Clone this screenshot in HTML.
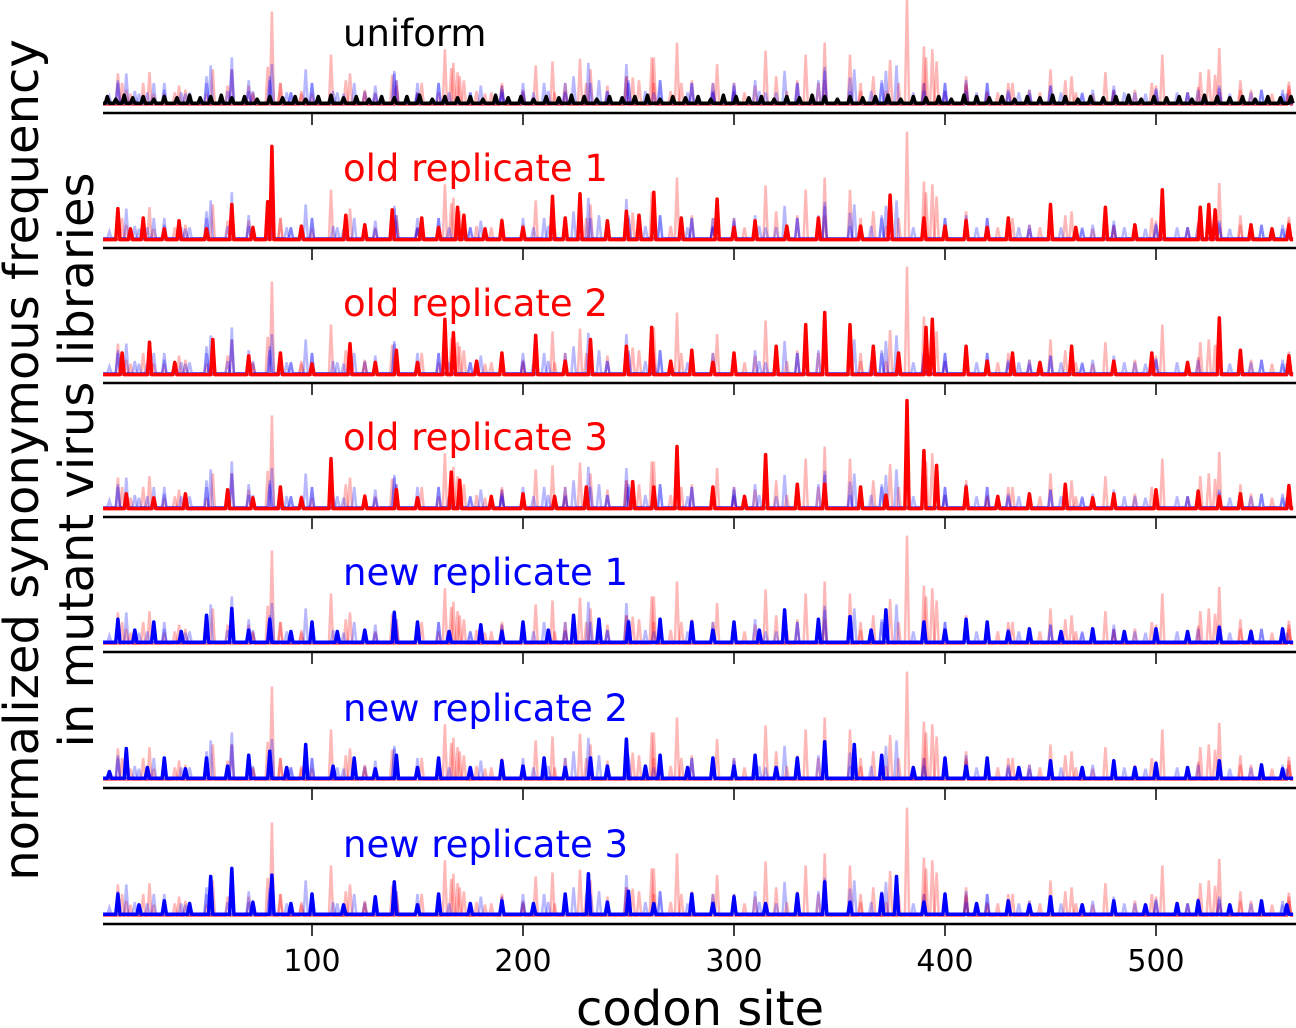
<!DOCTYPE html>
<html><head><meta charset="utf-8">
<style>
body{margin:0;background:#fff;}
svg{display:block;font-family:"DejaVu Sans","Liberation Sans",sans-serif;}
</style></head>
<body>
<svg id="chart" width="1296" height="1028" viewBox="0 0 1296 1028" xmlns="http://www.w3.org/2000/svg">
<g id="panels"></g>
<g id="xaxis"></g>
<text x="700" y="1025" font-size="48" text-anchor="middle">codon site</text>
<g transform="translate(0,460) rotate(-90)">
<text x="0" y="38" font-size="48" text-anchor="middle">normalized synonymous frequency</text>
<text x="0" y="93" font-size="48" text-anchor="middle">in mutant virus libraries</text>
</g>
</svg>
<script>
const nSites = 565;
const seriesNames = ["uniform","old replicate 1","old replicate 2","old replicate 3","new replicate 1","new replicate 2","new replicate 3"];
const seriesFloor = [0.05,0.04,0.04,0.04,0.05,0.05,0.05];
const uniformSites = [3,7,11,15,20,25,30,36,42,47,52,57,62,68,74,80,86,92,97,103,109,115,121,127,133,139,145,151,157,163,169,175,181,187,193,199,205,211,217,223,229,235,241,247,253,259,265,271,277,283,289,295,301,307,313,319,325,331,337,343,349,355,361,367,373,379,385,391,397,403,409,415,421,427,433,439,445,451,457,463,469,475,481,487,493,499,505,511,517,523,529,535,541,547,553,559,564];
const uniformVals  = [0.1,0.08,0.11,0.09,0.1,0.08,0.1,0.09,0.11,0.09,0.1,0.11,0.09,0.1,0.08,0.1,0.09,0.1,0.08,0.1,0.11,0.09,0.1,0.08,0.1,0.09,0.1,0.11,0.08,0.1,0.09,0.1,0.08,0.11,0.09,0.1,0.08,0.1,0.09,0.11,0.1,0.08,0.1,0.09,0.1,0.11,0.08,0.1,0.09,0.1,0.08,0.11,0.1,0.09,0.1,0.08,0.1,0.09,0.11,0.1,0.08,0.1,0.09,0.1,0.11,0.08,0.1,0.09,0.1,0.08,0.11,0.1,0.09,0.1,0.08,0.1,0.09,0.11,0.1,0.08,0.1,0.09,0.1,0.11,0.08,0.1,0.09,0.1,0.08,0.11,0.1,0.09,0.1,0.08,0.1,0.09,0.1];
const old1Sites = [8,14,20,30,37,50,62,72,79,81,95,116,125,138,152,160,169,172,182,190,200,214,220,227,240,249,255,262,275,292,300,310,325,340,360,374,390,400,410,420,430,450,462,476,490,503,521,525,528,545,555,563];
const old1Vals  = [0.27,0.12,0.2,0.12,0.18,0.12,0.3,0.13,0.32,0.73,0.14,0.22,0.15,0.26,0.2,0.13,0.28,0.22,0.12,0.18,0.13,0.36,0.2,0.38,0.18,0.25,0.22,0.39,0.2,0.34,0.13,0.18,0.14,0.2,0.14,0.37,0.2,0.14,0.18,0.13,0.2,0.3,0.13,0.28,0.15,0.41,0.28,0.3,0.26,0.15,0.12,0.15];
const old2Sites = [10,23,35,53,70,85,100,118,130,140,150,163,167,178,190,206,220,232,249,261,270,280,290,300,320,334,343,355,366,378,391,394,410,420,432,445,460,480,498,515,530,540,563];
const old2Vals  = [0.2,0.28,0.13,0.3,0.18,0.2,0.12,0.27,0.13,0.22,0.13,0.45,0.35,0.14,0.2,0.33,0.14,0.3,0.25,0.39,0.14,0.22,0.13,0.2,0.25,0.41,0.5,0.41,0.25,0.2,0.39,0.45,0.25,0.14,0.2,0.13,0.25,0.14,0.2,0.13,0.46,0.22,0.18];
const old3Sites = [12,25,40,60,72,85,95,109,125,140,150,166,170,185,200,215,230,252,262,273,290,305,315,330,343,360,372,382,390,396,410,425,440,457,470,480,500,520,530,540,563];
const old3Vals  = [0.15,0.12,0.15,0.18,0.12,0.2,0.12,0.41,0.13,0.18,0.12,0.31,0.25,0.13,0.15,0.13,0.2,0.24,0.2,0.5,0.2,0.13,0.44,0.22,0.22,0.2,0.14,0.84,0.47,0.36,0.2,0.13,0.15,0.22,0.12,0.15,0.18,0.17,0.13,0.15,0.21];
const new1Sites = [8,16,25,38,50,62,70,80,90,100,112,125,139,150,165,180,190,200,212,224,236,250,265,280,290,300,312,324,340,355,365,372,390,400,410,420,430,440,455,470,485,500,515,530,545,560];
const new1Vals  = [0.22,0.14,0.2,0.13,0.25,0.3,0.14,0.22,0.13,0.2,0.13,0.14,0.27,0.2,0.13,0.18,0.13,0.2,0.14,0.25,0.22,0.2,0.22,0.2,0.14,0.2,0.14,0.29,0.22,0.24,0.14,0.29,0.2,0.14,0.22,0.2,0.13,0.15,0.13,0.15,0.13,0.15,0.13,0.16,0.13,0.15];
const new2Sites = [4,12,22,30,40,50,60,70,80,88,97,110,120,130,140,150,160,175,190,200,210,220,232,240,249,258,265,278,290,300,310,320,330,343,357,370,385,400,410,420,435,450,465,480,490,500,515,530,550,560];
const new2Vals  = [0.1,0.27,0.13,0.2,0.12,0.2,0.14,0.22,0.25,0.13,0.3,0.14,0.2,0.12,0.22,0.13,0.2,0.13,0.18,0.14,0.2,0.13,0.2,0.14,0.34,0.14,0.22,0.13,0.2,0.14,0.22,0.13,0.2,0.32,0.3,0.22,0.13,0.2,0.14,0.2,0.13,0.18,0.13,0.18,0.13,0.16,0.13,0.18,0.15,0.12];
const new3Sites = [8,18,30,42,52,62,72,81,90,100,115,130,139,150,160,175,190,205,220,231,240,250,262,280,290,300,315,330,343,355,370,377,390,400,415,430,440,450,465,480,495,510,520,535,550,562];
const new3Vals  = [0.2,0.12,0.15,0.13,0.33,0.39,0.14,0.34,0.13,0.2,0.12,0.18,0.29,0.12,0.2,0.13,0.15,0.13,0.2,0.35,0.14,0.22,0.13,0.2,0.13,0.18,0.13,0.2,0.29,0.14,0.2,0.33,0.14,0.2,0.13,0.15,0.12,0.18,0.12,0.15,0.12,0.13,0.15,0.12,0.15,0.12];
const tickVals = [100,200,300,400,500];
const tickLabels = ["100","200","300","400","500"];

const peakSites = [uniformSites,old1Sites,old2Sites,old3Sites,new1Sites,new2Sites,new3Sites];
const peakVals = [uniformVals,old1Vals,old2Vals,old3Vals,new1Vals,new2Vals,new3Vals];
const colors = ["#000","#ff0000","#ff0000","#ff0000","#0000ff","#0000ff","#0000ff"];

const NS="http://www.w3.org/2000/svg";
const x0=101, pxPerSite=2.11;
function xScale(s){return x0+s*pxPerSite;}
const panelBase=[113,248,383,517,652,788,924];
const panelH=135;
function yScale(v,p){return panelBase[p]-3-v*panelH;}
function seriesValues(i){
  const v=new Array(nSites+1).fill(seriesFloor[i]);
  peakSites[i].forEach((s,k)=>{v[s]=peakVals[i][k];});
  return v;
}
function pathFor(i,p){
  const v=seriesValues(i);let d="";
  for(let s=1;s<=nSites;s++){d+=(s==1?"M":"L")+xScale(s).toFixed(1)+","+yScale(v[s],p).toFixed(1);}
  return d;
}
const panels=document.getElementById('panels');
for(let p=0;p<7;p++){
  const g=document.createElementNS(NS,'g');
  
  
  [1,2,3,4,5,6].forEach(i=>{
    if(i===p) return;
    const pa=document.createElementNS(NS,'path');
    pa.setAttribute('d',pathFor(i,p));
    pa.setAttribute('fill','none');
    pa.setAttribute('stroke',colors[i]);
    pa.setAttribute('stroke-opacity','0.28');
    pa.setAttribute('stroke-width','2.5');
    
    
    g.appendChild(pa);
  });
  const main=document.createElementNS(NS,'path');
  main.setAttribute('d',pathFor(p,p));
  main.setAttribute('fill','none');
  main.setAttribute('stroke',colors[p]);
  main.setAttribute('stroke-width','3.5');
  main.setAttribute('stroke-linejoin','round');
  
  
  g.appendChild(main);
  const ax=document.createElementNS(NS,'line');
  ax.setAttribute('x1',103);ax.setAttribute('x2',1296);
  ax.setAttribute('y1',panelBase[p]);ax.setAttribute('y2',panelBase[p]);
  ax.setAttribute('stroke','#000');ax.setAttribute('stroke-width','2.5');
  
  
  g.appendChild(ax);
  tickVals.forEach(t=>{
    const tk=document.createElementNS(NS,'line');
    tk.setAttribute('x1',xScale(t));tk.setAttribute('x2',xScale(t));
    tk.setAttribute('y1',panelBase[p]);tk.setAttribute('y2',panelBase[p]+12);
    tk.setAttribute('stroke','#000');tk.setAttribute('stroke-width','1.5');
    
    
    g.appendChild(tk);
  });
  const lb=document.createElementNS(NS,'text');
  lb.setAttribute('x',343);lb.setAttribute('y',panelBase[p]-67);
  lb.setAttribute('font-size','37');lb.setAttribute('fill',colors[p]);
  
  
  lb.textContent=seriesNames[p];
  g.appendChild(lb);
  panels.appendChild(g);
}
const xa=document.getElementById('xaxis');
tickVals.forEach((t,k)=>{
  const tx=document.createElementNS(NS,'text');
  tx.setAttribute('x',xScale(t));tx.setAttribute('y',971);
  tx.setAttribute('font-size','30');tx.setAttribute('text-anchor','middle');
  
  
  tx.textContent=tickLabels[k];
  xa.appendChild(tx);
});
</script>
</body></html>
